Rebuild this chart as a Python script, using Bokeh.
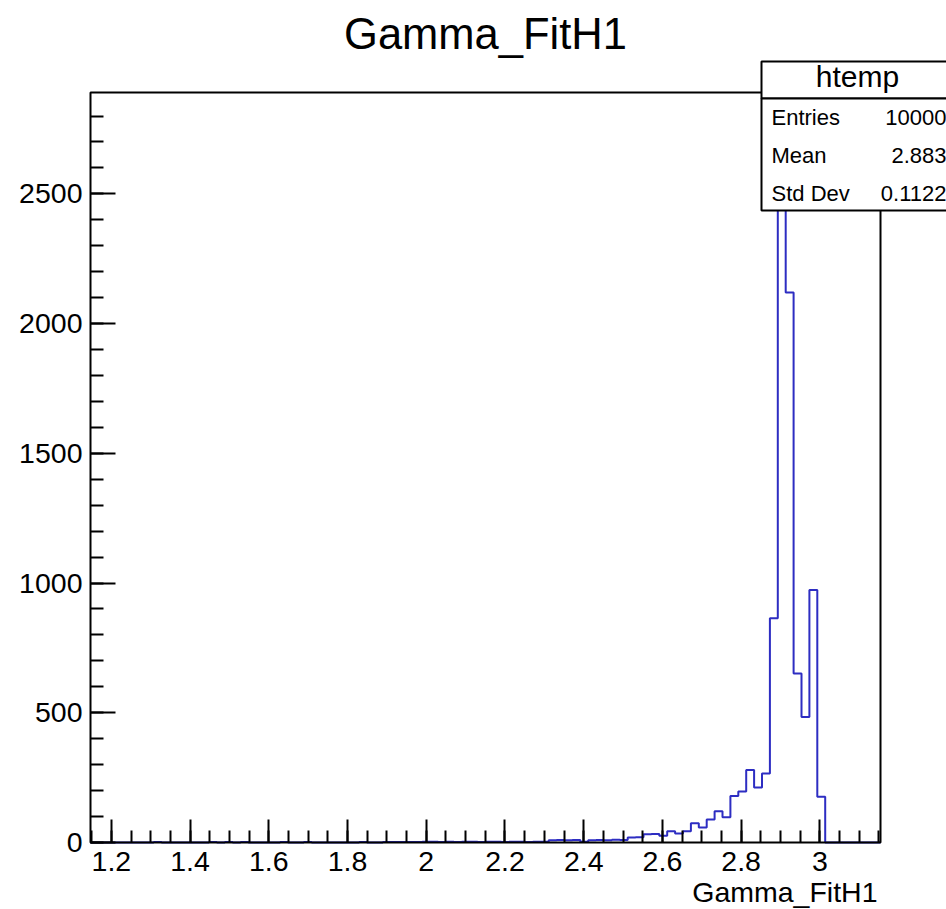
from bokeh.plotting import figure
from bokeh.models import Range1d, FixedTicker, LinearAxis, Label, BoxAnnotation
from bokeh.embed import file_html
from bokeh.resources import INLINE

# ---- histogram of Gamma_FitH1 (100 equal bins) ----
bin_lo = 1.147
bin_hi = 3.154
counts = [
    0, 0, 0, 0, 0, 0, 0, 0, 2, 0,
    0, 0, 0, 0, 0, 2, 0, 2, 0, 2,
    0, 0, 0, 0, 2, 0, 0, 2, 0, 0,
    0, 0, 0, 0, 2, 0, 0, 2, 2, 2,
    2, 2, 3, 3, 2, 3, 2, 3, 3, 2,
    3, 3, 2, 3, 3, 2, 3, 3, 9, 10,
    9, 10, 3, 9, 10, 9, 11, 10, 19, 20,
    32, 33, 26, 43, 35, 43, 74, 58, 89, 120,
    97, 179, 197, 279, 212, 266, 864, 2753, 2120, 651,
    484, 973, 176, 0, 0, 0, 0, 0, 0, 0,
]

# axis ticks and their labels
x_ticks = [1.2, 1.4, 1.6, 1.8, 2.0, 2.2, 2.4, 2.6, 2.8, 3.0]
x_tick_labels = ["1.2", "1.4", "1.6", "1.8", "2", "2.2", "2.4", "2.6", "2.8", "3"]
x_minor_ticks = [round(1.15 + 0.05 * i, 2) for i in range(41)]
y_ticks = [0, 500, 1000, 1500, 2000, 2500]
y_tick_labels = ["0", "500", "1000", "1500", "2000", "2500"]
y_minor_ticks = list(range(0, 2900, 100))

# statistics box
stat_title = "htemp"
stat_names = ["Entries", "Mean", "Std Dev"]
stat_values = ["10000", "2.883", "0.1122"]

title_text = "Gamma_FitH1"
x_title = "Gamma_FitH1"

FONT = "Liberation Sans"
HIST_COLOR = "#2d2dc2"

# canvas and pad-frame geometry (pixels from the top-left corner)
W, H = 946, 909
PAD_L, PAD_R, PAD_T, PAD_B = 90, 880, 92, 842

n_bins = len(counts)
bin_w = (bin_hi - bin_lo) / n_bins
edges = [bin_lo + i * bin_w for i in range(n_bins + 1)]
y_top = 1.05 * max(counts)

# the plotting area spans the whole canvas; ranges are widened so that the
# histogram frame sits at the pad position, leaving room for labels
ux = (bin_hi - bin_lo) / (PAD_R - PAD_L)
uy = y_top / (PAD_B - PAD_T)
x_range = Range1d(bin_lo - PAD_L * ux, bin_hi + (W - PAD_R) * ux)
y_range = Range1d(-(H - PAD_B) * uy, y_top + PAD_T * uy)

p = figure(
    width=W, height=H,
    x_range=x_range, y_range=y_range,
    x_axis_location=None, y_axis_location=None,
    output_backend="svg", toolbar_location=None,
    min_border=0, min_border_left=0, min_border_right=0,
    min_border_top=0, min_border_bottom=0,
)
p.outline_line_color = None
p.xgrid.visible = False
p.ygrid.visible = False
p.background_fill_color = "white"
p.border_fill_color = "white"

# histogram outline
p.step(edges, counts + [counts[-1]], mode="after", line_color=HIST_COLOR, line_width=2)

# histogram frame
p.quad(left=[bin_lo], right=[bin_hi], bottom=[0], top=[y_top],
       fill_color=None, line_color="black", line_width=2)

xa = LinearAxis(fixed_location=0)
ya = LinearAxis(fixed_location=bin_lo)
xa.ticker = FixedTicker(ticks=x_ticks, minor_ticks=x_minor_ticks)
xa.major_label_overrides = dict(zip(x_ticks, x_tick_labels))
ya.ticker = FixedTicker(ticks=y_ticks, minor_ticks=y_minor_ticks)
ya.major_label_overrides = dict(zip(y_ticks, y_tick_labels))

for ax in (xa, ya):
    ax.axis_line_color = None
    ax.major_tick_line_color = "black"
    ax.major_tick_line_width = 2
    ax.minor_tick_line_color = "black"
    ax.minor_tick_line_width = 2
    ax.major_tick_out = 0
    ax.minor_tick_out = 0
    ax.major_label_text_font = FONT
    ax.major_label_text_font_size = "28.5px"
    ax.major_label_text_color = "black"
xa.major_tick_in = 23
xa.minor_tick_in = 12
xa.major_label_standoff = 9
ya.major_tick_in = 25
ya.minor_tick_in = 13
ya.major_label_standoff = 8
p.add_layout(xa, "below")
p.add_layout(ya, "left")


def sx(px):
    return px


def sy(py):
    return H - py


def text(x, baseline, s, size, align="left"):
    # Label's alphabetic anchor lands about 0.37 em below the requested
    # position, so lift it to put the baseline where wanted
    y = baseline - 0.37 * size
    p.add_layout(Label(
        x=sx(x), y=sy(y), x_units="screen", y_units="screen",
        text=s, text_align=align, text_baseline="alphabetic",
        text_font=FONT, text_font_size=f"{size}px", text_color="black",
    ))


# title and x-axis title
text(485, 50, title_text, 43.5, "center")
text(877, 902, x_title, 28.5, "right")

# statistics box: header + body
box_l, box_r = 761, 953
for top, bottom in ((61, 98), (98, 210)):
    p.add_layout(BoxAnnotation(
        left=sx(box_l), right=sx(box_r), top=sy(top), bottom=sy(bottom),
        left_units="screen", right_units="screen",
        top_units="screen", bottom_units="screen",
        fill_color="white", fill_alpha=1.0,
        line_color="black", line_alpha=1.0, line_width=2,
    ))

text(857, 87, stat_title, 30, "center")
for i, (name, val) in enumerate(zip(stat_names, stat_values)):
    base = 125 + 38.3 * i
    text(771, base, name, 22, "left")
    text(946, base, val, 22, "right")

open("out.html", "w").write(file_html(p, INLINE))
